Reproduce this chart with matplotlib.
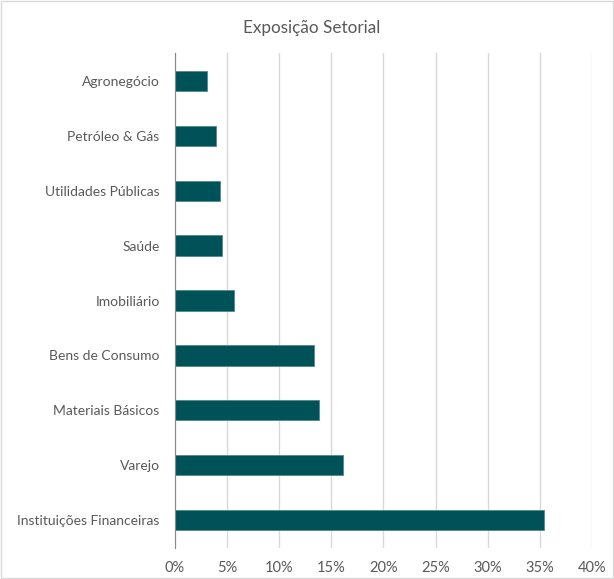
import matplotlib.pyplot as plt
from matplotlib.ticker import PercentFormatter
from matplotlib.patches import Rectangle

setores = ["Instituições Financeiras", "Varejo", "Materiais Básicos", "Bens de Consumo",
           "Imobiliário", "Saúde", "Utilidades Públicas", "Petróleo & Gás", "Agronegócio"]
exposicao = [35.4, 16.1, 13.8, 13.3, 5.7, 4.5, 4.3, 3.9, 3.1]

COR = "#005259"
TEXTO = "#595959"

plt.rcParams['font.family'] = ['Lato', 'DejaVu Sans']

fig = plt.figure(figsize=(6.14, 5.79), dpi=100)
ax = fig.add_axes([0.285, 0.0544, 0.679, 0.8532])

ax.barh(range(len(setores)), exposicao, height=0.37, color=COR,
        edgecolor="#4f8a8f", linewidth=0.6, zorder=3)

ax.set_xlim(0, 40)
ax.set_ylim(-0.5, len(setores) - 0.5)
ax.set_yticks(range(len(setores)))
ax.set_yticklabels(setores, fontsize=10, color=TEXTO)
ax.set_xticks(range(0, 41, 5))
ax.xaxis.set_major_formatter(PercentFormatter(decimals=0))
ax.tick_params(axis="x", labelsize=10.5, labelcolor=TEXTO, length=0, pad=10)
ax.tick_params(axis="y", length=0, pad=11)

ax.grid(axis="x", color="#d9d9d9", linewidth=1, zorder=0)
for s in ["top", "right", "bottom"]:
    ax.spines[s].set_visible(False)
ax.spines["left"].set_color("#868686")
ax.spines["left"].set_zorder(4)

fig.suptitle("Exposição Setorial", x=0.507, y=0.965, fontsize=12.3, color=TEXTO)

# moldura do gráfico
fig.patches.append(Rectangle((0.002, 0.002), 0.996, 0.996, transform=fig.transFigure,
                             fill=False, edgecolor="#d9d9d9", linewidth=1))

fig.savefig("out.png", dpi=100)
